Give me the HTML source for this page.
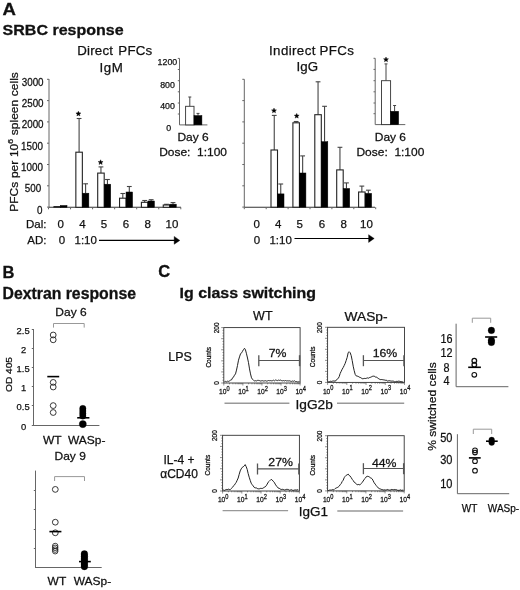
<!DOCTYPE html>
<html><head><meta charset="utf-8"><style>
html,body{margin:0;padding:0;background:#fff;}
svg{display:block;font-family:"Liberation Sans", sans-serif;will-change:transform;}
text{fill:#111;stroke:#111;stroke-width:0.25px;}
text[font-weight=bold]{stroke-width:0.3px;}
</style></head><body>
<svg width="520" height="590" viewBox="0 0 520 590">
<rect width="520" height="590" fill="#fff"/>
<text transform="translate(2.5,14.7) scale(1.08,1)" x="0" y="0" font-size="17.2" text-anchor="start" font-weight="bold" >A</text>
<text transform="translate(2.6,35.3) scale(1.055,1)" x="0" y="0" font-size="15.2" text-anchor="start" font-weight="bold" >SRBC response</text>
<line x1="49" y1="79" x2="49" y2="207.3" stroke="#666" stroke-width="1"/>
<line x1="49" y1="207.3" x2="181" y2="207.3" stroke="#333" stroke-width="1.1"/>
<line x1="47" y1="79.3" x2="49" y2="79.3" stroke="#666" stroke-width="1"/>
<line x1="47" y1="100.6" x2="49" y2="100.6" stroke="#666" stroke-width="1"/>
<line x1="47" y1="121.9" x2="49" y2="121.9" stroke="#666" stroke-width="1"/>
<line x1="47" y1="143.2" x2="49" y2="143.2" stroke="#666" stroke-width="1"/>
<line x1="47" y1="164.5" x2="49" y2="164.5" stroke="#666" stroke-width="1"/>
<line x1="47" y1="185.8" x2="49" y2="185.8" stroke="#666" stroke-width="1"/>
<line x1="47" y1="207.10000000000002" x2="49" y2="207.10000000000002" stroke="#666" stroke-width="1"/>
<rect x="54.0" y="206.6" width="6.5" height="0.700000000000017" fill="#fff" stroke="#222" stroke-width="1.1"/>
<rect x="60.5" y="205.5" width="6.5" height="1.8000000000000114" fill="#000" stroke="#000" stroke-width="0.5"/>
<line x1="79.1" y1="118.5" x2="79.1" y2="152.2" stroke="#444" stroke-width="1.1"/>
<line x1="76.69999999999999" y1="118.5" x2="81.5" y2="118.5" stroke="#444" stroke-width="1.1"/>
<rect x="75.85" y="152.2" width="6.5" height="55.10000000000002" fill="#fff" stroke="#222" stroke-width="1.1"/>
<line x1="85.6" y1="183.8" x2="85.6" y2="193.2" stroke="#444" stroke-width="1.1"/>
<line x1="83.19999999999999" y1="183.8" x2="88.0" y2="183.8" stroke="#444" stroke-width="1.1"/>
<rect x="82.35" y="193.2" width="6.5" height="14.100000000000023" fill="#000" stroke="#000" stroke-width="0.5"/>
<line x1="100.95" y1="166.9" x2="100.95" y2="173.1" stroke="#444" stroke-width="1.1"/>
<line x1="98.55" y1="166.9" x2="103.35000000000001" y2="166.9" stroke="#444" stroke-width="1.1"/>
<rect x="97.7" y="173.1" width="6.5" height="34.20000000000002" fill="#fff" stroke="#222" stroke-width="1.1"/>
<line x1="107.45" y1="179.5" x2="107.45" y2="184.2" stroke="#444" stroke-width="1.1"/>
<line x1="105.05" y1="179.5" x2="109.85000000000001" y2="179.5" stroke="#444" stroke-width="1.1"/>
<rect x="104.2" y="184.2" width="6.5" height="23.100000000000023" fill="#000" stroke="#000" stroke-width="0.5"/>
<line x1="122.80000000000001" y1="193.5" x2="122.80000000000001" y2="198.2" stroke="#444" stroke-width="1.1"/>
<line x1="120.4" y1="193.5" x2="125.20000000000002" y2="193.5" stroke="#444" stroke-width="1.1"/>
<rect x="119.55000000000001" y="198.2" width="6.5" height="9.100000000000023" fill="#fff" stroke="#222" stroke-width="1.1"/>
<line x1="129.3" y1="186.5" x2="129.3" y2="192" stroke="#444" stroke-width="1.1"/>
<line x1="126.9" y1="186.5" x2="131.70000000000002" y2="186.5" stroke="#444" stroke-width="1.1"/>
<rect x="126.05000000000001" y="192" width="6.5" height="15.300000000000011" fill="#000" stroke="#000" stroke-width="0.5"/>
<line x1="144.65" y1="200.5" x2="144.65" y2="202.3" stroke="#444" stroke-width="1.1"/>
<line x1="142.25" y1="200.5" x2="147.05" y2="200.5" stroke="#444" stroke-width="1.1"/>
<rect x="141.4" y="202.3" width="6.5" height="5.0" fill="#fff" stroke="#222" stroke-width="1.1"/>
<line x1="151.15" y1="199.7" x2="151.15" y2="201" stroke="#444" stroke-width="1.1"/>
<line x1="148.75" y1="199.7" x2="153.55" y2="199.7" stroke="#444" stroke-width="1.1"/>
<rect x="147.9" y="201" width="6.5" height="6.300000000000011" fill="#000" stroke="#000" stroke-width="0.5"/>
<line x1="166.5" y1="204.3" x2="166.5" y2="205" stroke="#444" stroke-width="1.1"/>
<line x1="164.1" y1="204.3" x2="168.9" y2="204.3" stroke="#444" stroke-width="1.1"/>
<rect x="163.25" y="205" width="6.5" height="2.3000000000000114" fill="#fff" stroke="#222" stroke-width="1.1"/>
<line x1="173.0" y1="202.6" x2="173.0" y2="204.2" stroke="#444" stroke-width="1.1"/>
<line x1="170.6" y1="202.6" x2="175.4" y2="202.6" stroke="#444" stroke-width="1.1"/>
<rect x="169.75" y="204.2" width="6.5" height="3.1000000000000227" fill="#000" stroke="#000" stroke-width="0.5"/>
<line x1="48.5" y1="207.3" x2="48.5" y2="209.3" stroke="#666" stroke-width="1"/>
<line x1="70.55" y1="207.3" x2="70.55" y2="209.3" stroke="#666" stroke-width="1"/>
<line x1="92.6" y1="207.3" x2="92.6" y2="209.3" stroke="#666" stroke-width="1"/>
<line x1="114.65" y1="207.3" x2="114.65" y2="209.3" stroke="#666" stroke-width="1"/>
<line x1="136.7" y1="207.3" x2="136.7" y2="209.3" stroke="#666" stroke-width="1"/>
<line x1="158.75" y1="207.3" x2="158.75" y2="209.3" stroke="#666" stroke-width="1"/>
<line x1="180.8" y1="207.3" x2="180.8" y2="209.3" stroke="#666" stroke-width="1"/>
<text transform="translate(43.6,85.7) scale(0.975,1)" x="0" y="0" font-size="10.1" text-anchor="end" font-weight="normal" >3000</text>
<text transform="translate(43.6,107.0) scale(0.975,1)" x="0" y="0" font-size="10.1" text-anchor="end" font-weight="normal" >2500</text>
<text transform="translate(43.6,128.3) scale(0.975,1)" x="0" y="0" font-size="10.1" text-anchor="end" font-weight="normal" >2000</text>
<text transform="translate(42.9,149.6) scale(0.975,1)" x="0" y="0" font-size="10.1" text-anchor="end" font-weight="normal" >1500</text>
<text transform="translate(43.0,170.9) scale(0.975,1)" x="0" y="0" font-size="10.1" text-anchor="end" font-weight="normal" >1000</text>
<text transform="translate(41.3,192.20000000000002) scale(0.975,1)" x="0" y="0" font-size="10.1" text-anchor="end" font-weight="normal" >500</text>
<text transform="translate(42.4,213.50000000000003) scale(0.975,1)" x="0" y="0" font-size="10.1" text-anchor="end" font-weight="normal" >0</text>
<polygon points="78.40,111.20 79.09,112.85 80.87,113.00 79.51,114.16 79.93,115.90 78.40,114.97 76.87,115.90 77.29,114.16 75.93,113.00 77.71,112.85" fill="#000" stroke="#000" stroke-width="0.4"/>
<polygon points="100.60,159.80 101.29,161.45 103.07,161.60 101.71,162.76 102.13,164.50 100.60,163.57 99.07,164.50 99.49,162.76 98.13,161.60 99.91,161.45" fill="#000" stroke="#000" stroke-width="0.4"/>
<text x="60.8" y="227.7" font-size="11.5" text-anchor="middle" font-weight="normal" >0</text>
<text x="82.4" y="227.7" font-size="11.5" text-anchor="middle" font-weight="normal" >4</text>
<text x="104" y="227.7" font-size="11.5" text-anchor="middle" font-weight="normal" >5</text>
<text x="126" y="227.7" font-size="11.5" text-anchor="middle" font-weight="normal" >6</text>
<text x="147.6" y="227.7" font-size="11.5" text-anchor="middle" font-weight="normal" >8</text>
<text x="172" y="227.7" font-size="11.5" text-anchor="middle" font-weight="normal" >10</text>
<text x="46.5" y="227.8" font-size="11.5" text-anchor="end" font-weight="normal" >Dal:</text>
<text x="46.5" y="244.1" font-size="11.5" text-anchor="end" font-weight="normal" >AD:</text>
<text x="62" y="244.1" font-size="11.5" text-anchor="middle" font-weight="normal" >0</text>
<text x="74.5" y="244.1" font-size="11.5" text-anchor="start" font-weight="normal" >1:10</text>
<line x1="99" y1="240.4" x2="175" y2="240.4" stroke="#000" stroke-width="1.1"/>
<path d="M174.2,236.4 L179.8,240.4 L174.2,244.3 Z" stroke="#000" stroke-width="0.4" fill="#000"/>
<text transform="translate(17.6,211.8) rotate(-90) scale(1.13,1)" font-size="10.6" x="0" y="0" word-spacing="0.4">PFCs per 10<tspan font-size="7.6" dy="-4.6">6</tspan><tspan dy="4.6"> spleen cells</tspan></text>
<text x="77.2" y="55" font-size="13.3" text-anchor="start" font-weight="normal" word-spacing="1.2" letter-spacing="0.22">Direct PFCs</text>
<text x="99.5" y="71.5" font-size="13.3" text-anchor="start" font-weight="normal" letter-spacing="0.6">IgM</text>
<line x1="179.5" y1="58.4" x2="179.5" y2="124.9" stroke="#666" stroke-width="1"/>
<line x1="179.5" y1="124.9" x2="207.4" y2="124.9" stroke="#666" stroke-width="1"/>
<line x1="177.8" y1="58.4" x2="179.5" y2="58.4" stroke="#666" stroke-width="1"/>
<line x1="177.8" y1="69.5" x2="179.5" y2="69.5" stroke="#666" stroke-width="1"/>
<line x1="177.8" y1="80.7" x2="179.5" y2="80.7" stroke="#666" stroke-width="1"/>
<line x1="177.8" y1="91.8" x2="179.5" y2="91.8" stroke="#666" stroke-width="1"/>
<line x1="177.8" y1="103" x2="179.5" y2="103" stroke="#666" stroke-width="1"/>
<line x1="177.8" y1="114" x2="179.5" y2="114" stroke="#666" stroke-width="1"/>
<text x="167.4" y="65.2" font-size="8.8" text-anchor="middle" font-weight="normal" >1200</text>
<text x="167.5" y="87.5" font-size="8.8" text-anchor="middle" font-weight="normal" >800</text>
<text x="167.5" y="108.7" font-size="8.8" text-anchor="middle" font-weight="normal" >400</text>
<text x="168.6" y="131" font-size="8.8" text-anchor="middle" font-weight="normal" >0</text>
<line x1="189.8" y1="97" x2="189.8" y2="106.3" stroke="#444" stroke-width="1"/>
<line x1="188.3" y1="97" x2="191.3" y2="97" stroke="#444" stroke-width="1"/>
<rect x="185.6" y="106.3" width="8.4" height="18.60000000000001" fill="#fff" stroke="#333" stroke-width="0.9"/>
<line x1="198" y1="113.4" x2="198" y2="115.6" stroke="#444" stroke-width="1"/>
<line x1="196.5" y1="113.4" x2="199.5" y2="113.4" stroke="#444" stroke-width="1"/>
<rect x="194" y="115.6" width="7.9" height="9.300000000000011" fill="#000" stroke="#000" stroke-width="0.5"/>
<text transform="translate(193.1,140.9) scale(1.07,1)" x="0" y="0" font-size="11.2" text-anchor="middle" font-weight="normal" >Day 6</text>
<text transform="translate(193.1,155.7) scale(1.07,1)" x="0" y="0" font-size="11.2" text-anchor="middle" font-weight="normal" >Dose:&#160;&#160;1:100</text>
<line x1="244.3" y1="79.3" x2="244.3" y2="207.2" stroke="#666" stroke-width="1"/>
<line x1="244.3" y1="207.2" x2="375" y2="207.2" stroke="#333" stroke-width="1.1"/>
<line x1="242.3" y1="79.3" x2="244.3" y2="79.3" stroke="#666" stroke-width="1"/>
<line x1="242.3" y1="100.6" x2="244.3" y2="100.6" stroke="#666" stroke-width="1"/>
<line x1="242.3" y1="121.9" x2="244.3" y2="121.9" stroke="#666" stroke-width="1"/>
<line x1="242.3" y1="143.2" x2="244.3" y2="143.2" stroke="#666" stroke-width="1"/>
<line x1="242.3" y1="164.5" x2="244.3" y2="164.5" stroke="#666" stroke-width="1"/>
<line x1="242.3" y1="185.8" x2="244.3" y2="185.8" stroke="#666" stroke-width="1"/>
<line x1="242.3" y1="207.10000000000002" x2="244.3" y2="207.10000000000002" stroke="#666" stroke-width="1"/>
<line x1="274.25" y1="115.4" x2="274.25" y2="150" stroke="#444" stroke-width="1.1"/>
<line x1="271.85" y1="115.4" x2="276.65" y2="115.4" stroke="#444" stroke-width="1.1"/>
<rect x="271.0" y="150" width="6.5" height="57.19999999999999" fill="#fff" stroke="#222" stroke-width="1.1"/>
<line x1="280.75" y1="184" x2="280.75" y2="193.9" stroke="#444" stroke-width="1.1"/>
<line x1="278.35" y1="184" x2="283.15" y2="184" stroke="#444" stroke-width="1.1"/>
<rect x="277.5" y="193.9" width="6.5" height="13.299999999999983" fill="#000" stroke="#000" stroke-width="0.5"/>
<line x1="296.15" y1="121.5" x2="296.15" y2="122.8" stroke="#444" stroke-width="1.1"/>
<line x1="293.75" y1="121.5" x2="298.54999999999995" y2="121.5" stroke="#444" stroke-width="1.1"/>
<rect x="292.9" y="122.8" width="6.5" height="84.39999999999999" fill="#fff" stroke="#222" stroke-width="1.1"/>
<line x1="302.65" y1="155.9" x2="302.65" y2="173" stroke="#444" stroke-width="1.1"/>
<line x1="300.25" y1="155.9" x2="305.04999999999995" y2="155.9" stroke="#444" stroke-width="1.1"/>
<rect x="299.4" y="173" width="6.5" height="34.19999999999999" fill="#000" stroke="#000" stroke-width="0.5"/>
<line x1="318.04999999999995" y1="81.8" x2="318.04999999999995" y2="114.7" stroke="#444" stroke-width="1.1"/>
<line x1="315.65" y1="81.8" x2="320.44999999999993" y2="81.8" stroke="#444" stroke-width="1.1"/>
<rect x="314.79999999999995" y="114.7" width="6.5" height="92.49999999999999" fill="#fff" stroke="#222" stroke-width="1.1"/>
<line x1="324.54999999999995" y1="106.3" x2="324.54999999999995" y2="141.7" stroke="#444" stroke-width="1.1"/>
<line x1="322.15" y1="106.3" x2="326.94999999999993" y2="106.3" stroke="#444" stroke-width="1.1"/>
<rect x="321.29999999999995" y="141.7" width="6.5" height="65.5" fill="#000" stroke="#000" stroke-width="0.5"/>
<line x1="339.95" y1="147.3" x2="339.95" y2="169.9" stroke="#444" stroke-width="1.1"/>
<line x1="337.55" y1="147.3" x2="342.34999999999997" y2="147.3" stroke="#444" stroke-width="1.1"/>
<rect x="336.7" y="169.9" width="6.5" height="37.29999999999998" fill="#fff" stroke="#222" stroke-width="1.1"/>
<line x1="346.45" y1="182.9" x2="346.45" y2="188.5" stroke="#444" stroke-width="1.1"/>
<line x1="344.05" y1="182.9" x2="348.84999999999997" y2="182.9" stroke="#444" stroke-width="1.1"/>
<rect x="343.2" y="188.5" width="6.5" height="18.69999999999999" fill="#000" stroke="#000" stroke-width="0.5"/>
<line x1="361.85" y1="186.1" x2="361.85" y2="192" stroke="#444" stroke-width="1.1"/>
<line x1="359.45000000000005" y1="186.1" x2="364.25" y2="186.1" stroke="#444" stroke-width="1.1"/>
<rect x="358.6" y="192" width="6.5" height="15.199999999999989" fill="#fff" stroke="#222" stroke-width="1.1"/>
<line x1="368.35" y1="190.2" x2="368.35" y2="193.4" stroke="#444" stroke-width="1.1"/>
<line x1="365.95000000000005" y1="190.2" x2="370.75" y2="190.2" stroke="#444" stroke-width="1.1"/>
<rect x="365.1" y="193.4" width="6.5" height="13.799999999999983" fill="#000" stroke="#000" stroke-width="0.5"/>
<line x1="244.3" y1="207.2" x2="244.3" y2="209.2" stroke="#666" stroke-width="1"/>
<line x1="266.2" y1="207.2" x2="266.2" y2="209.2" stroke="#666" stroke-width="1"/>
<line x1="288.1" y1="207.2" x2="288.1" y2="209.2" stroke="#666" stroke-width="1"/>
<line x1="310.0" y1="207.2" x2="310.0" y2="209.2" stroke="#666" stroke-width="1"/>
<line x1="331.9" y1="207.2" x2="331.9" y2="209.2" stroke="#666" stroke-width="1"/>
<line x1="353.8" y1="207.2" x2="353.8" y2="209.2" stroke="#666" stroke-width="1"/>
<line x1="375.7" y1="207.2" x2="375.7" y2="209.2" stroke="#666" stroke-width="1"/>
<polygon points="274.00,108.10 274.69,109.75 276.47,109.90 275.11,111.06 275.53,112.80 274.00,111.87 272.47,112.80 272.89,111.06 271.53,109.90 273.31,109.75" fill="#000" stroke="#000" stroke-width="0.4"/>
<polygon points="296.70,113.40 297.39,115.05 299.17,115.20 297.81,116.36 298.23,118.10 296.70,117.17 295.17,118.10 295.59,116.36 294.23,115.20 296.01,115.05" fill="#000" stroke="#000" stroke-width="0.4"/>
<text x="256.7" y="227.8" font-size="11.5" text-anchor="middle" font-weight="normal" >0</text>
<text x="278.2" y="227.8" font-size="11.5" text-anchor="middle" font-weight="normal" >4</text>
<text x="299.8" y="227.8" font-size="11.5" text-anchor="middle" font-weight="normal" >5</text>
<text x="322" y="227.8" font-size="11.5" text-anchor="middle" font-weight="normal" >6</text>
<text x="343.7" y="227.8" font-size="11.5" text-anchor="middle" font-weight="normal" >8</text>
<text x="366.5" y="227.8" font-size="11.5" text-anchor="middle" font-weight="normal" >10</text>
<text x="257" y="243.5" font-size="11.5" text-anchor="middle" font-weight="normal" >0</text>
<text x="269.4" y="243.5" font-size="11.5" text-anchor="start" font-weight="normal" >1:10</text>
<line x1="294.5" y1="238.5" x2="369" y2="238.5" stroke="#000" stroke-width="1.1"/>
<path d="M368.6,234.7 L374.2,238.5 L368.6,242.4 Z" stroke="#000" stroke-width="0.4" fill="#000"/>
<text x="269" y="55" font-size="13.3" text-anchor="start" font-weight="normal" word-spacing="-0.5" letter-spacing="0.4">Indirect PFCs</text>
<text x="296.6" y="71.3" font-size="13.3" text-anchor="start" font-weight="normal" >IgG</text>
<line x1="375.2" y1="58.3" x2="375.2" y2="124.6" stroke="#666" stroke-width="1"/>
<line x1="375.2" y1="124.6" x2="405.3" y2="124.6" stroke="#666" stroke-width="1"/>
<line x1="373.5" y1="58.3" x2="375.2" y2="58.3" stroke="#666" stroke-width="1"/>
<line x1="373.5" y1="69.4" x2="375.2" y2="69.4" stroke="#666" stroke-width="1"/>
<line x1="373.5" y1="80.7" x2="375.2" y2="80.7" stroke="#666" stroke-width="1"/>
<line x1="373.5" y1="91.8" x2="375.2" y2="91.8" stroke="#666" stroke-width="1"/>
<line x1="373.5" y1="103" x2="375.2" y2="103" stroke="#666" stroke-width="1"/>
<line x1="373.5" y1="113.7" x2="375.2" y2="113.7" stroke="#666" stroke-width="1"/>
<line x1="386" y1="63.9" x2="386" y2="80.7" stroke="#444" stroke-width="1"/>
<line x1="384.5" y1="63.9" x2="387.5" y2="63.9" stroke="#444" stroke-width="1"/>
<rect x="381.5" y="80.7" width="9.1" height="43.89999999999999" fill="#fff" stroke="#333" stroke-width="0.9"/>
<line x1="394.6" y1="105.5" x2="394.6" y2="111.3" stroke="#444" stroke-width="1"/>
<line x1="393.1" y1="105.5" x2="396.1" y2="105.5" stroke="#444" stroke-width="1"/>
<rect x="390.6" y="111.3" width="8" height="13.299999999999997" fill="#000" stroke="#000" stroke-width="0.5"/>
<polygon points="386.00,57.00 386.69,58.65 388.47,58.80 387.11,59.96 387.53,61.70 386.00,60.77 384.47,61.70 384.89,59.96 383.53,58.80 385.31,58.65" fill="#000" stroke="#000" stroke-width="0.4"/>
<text transform="translate(390.4,140.9) scale(1.07,1)" x="0" y="0" font-size="11.2" text-anchor="middle" font-weight="normal" >Day 6</text>
<text transform="translate(390.4,155.7) scale(1.07,1)" x="0" y="0" font-size="11.2" text-anchor="middle" font-weight="normal" >Dose:&#160;&#160;1:100</text>
<text x="2.6" y="277.7" font-size="16.5" text-anchor="start" font-weight="bold" >B</text>
<text x="2.5" y="298.6" font-size="15.8" text-anchor="start" font-weight="bold" >Dextran response</text>
<text transform="translate(71,316.3) scale(1.07,1)" x="0" y="0" font-size="11.2" text-anchor="middle" font-weight="normal" >Day 6</text>
<path d="M53.5,327.6 L53.5,323.5 L84.2,323.5 L84.2,327.6" stroke="#999" stroke-width="1" fill="none"/>
<line x1="33.5" y1="329" x2="33.5" y2="425.5" stroke="#666" stroke-width="1"/>
<line x1="33" y1="425.5" x2="99.4" y2="425.5" stroke="#666" stroke-width="1"/>
<line x1="31.8" y1="329.5" x2="33.5" y2="329.5" stroke="#666" stroke-width="1"/>
<text x="23.1" y="334.1" font-size="9.4" text-anchor="middle" font-weight="normal" >2.5</text>
<line x1="31.8" y1="348.5" x2="33.5" y2="348.5" stroke="#666" stroke-width="1"/>
<text x="23.6" y="353.1" font-size="9.4" text-anchor="middle" font-weight="normal" >2</text>
<line x1="31.8" y1="367.5" x2="33.5" y2="367.5" stroke="#666" stroke-width="1"/>
<text x="23.1" y="372.1" font-size="9.4" text-anchor="middle" font-weight="normal" >1.5</text>
<line x1="31.8" y1="386.5" x2="33.5" y2="386.5" stroke="#666" stroke-width="1"/>
<text x="23.6" y="391.1" font-size="9.4" text-anchor="middle" font-weight="normal" >1</text>
<line x1="31.8" y1="405.5" x2="33.5" y2="405.5" stroke="#666" stroke-width="1"/>
<text x="23.1" y="410.1" font-size="9.4" text-anchor="middle" font-weight="normal" >0.5</text>
<line x1="31.8" y1="425.5" x2="33.5" y2="425.5" stroke="#666" stroke-width="1"/>
<text x="23.6" y="430.1" font-size="9.4" text-anchor="middle" font-weight="normal" >0</text>
<circle cx="53.2" cy="335" r="2.9" fill="none" stroke="#222" stroke-width="0.9"/>
<circle cx="53.2" cy="339.8" r="2.9" fill="none" stroke="#222" stroke-width="0.9"/>
<circle cx="53.2" cy="382.4" r="2.9" fill="none" stroke="#222" stroke-width="0.9"/>
<circle cx="53.2" cy="387" r="2.9" fill="none" stroke="#222" stroke-width="0.9"/>
<circle cx="53.2" cy="405.6" r="2.9" fill="none" stroke="#222" stroke-width="0.9"/>
<circle cx="53.2" cy="412.5" r="2.9" fill="none" stroke="#222" stroke-width="0.9"/>
<line x1="47.3" y1="376.6" x2="59.2" y2="376.6" stroke="#000" stroke-width="1.6"/>
<circle cx="82.8" cy="408.5" r="3.2" fill="#000" stroke="#000" stroke-width="0.3"/>
<circle cx="82.8" cy="411" r="3.2" fill="#000" stroke="#000" stroke-width="0.3"/>
<circle cx="82.8" cy="413.5" r="3.2" fill="#000" stroke="#000" stroke-width="0.3"/>
<circle cx="82.8" cy="416" r="3.2" fill="#000" stroke="#000" stroke-width="0.3"/>
<circle cx="82.8" cy="424.1" r="3.6" fill="#000" stroke="#000" stroke-width="0.3"/>
<line x1="77.2" y1="417.8" x2="89.4" y2="417.8" stroke="#000" stroke-width="1.6"/>
<text transform="translate(12.2,392) rotate(-90) scale(1.08,1)" font-size="9.4" x="0" y="0">OD 405</text>
<text transform="translate(52.2,443.9) scale(1.07,1)" x="0" y="0" font-size="11.2" text-anchor="middle" font-weight="normal" >WT</text>
<text transform="translate(86.7,443.9) scale(1.07,1)" x="0" y="0" font-size="11.2" text-anchor="middle" font-weight="normal" >WASp-</text>
<text transform="translate(70.2,460.4) scale(1.07,1)" x="0" y="0" font-size="11.2" text-anchor="middle" font-weight="normal" >Day 9</text>
<path d="M54.6,481 L54.6,476.6 L84.5,476.6 L84.5,481" stroke="#999" stroke-width="1" fill="none"/>
<line x1="35.5" y1="470.6" x2="35.5" y2="567.5" stroke="#666" stroke-width="1"/>
<line x1="35" y1="567.5" x2="101.7" y2="567.5" stroke="#666" stroke-width="1"/>
<line x1="33.8" y1="490.5" x2="35.5" y2="490.5" stroke="#666" stroke-width="1"/>
<line x1="33.8" y1="509.5" x2="35.5" y2="509.5" stroke="#666" stroke-width="1"/>
<line x1="33.8" y1="529.5" x2="35.5" y2="529.5" stroke="#666" stroke-width="1"/>
<line x1="33.8" y1="548.5" x2="35.5" y2="548.5" stroke="#666" stroke-width="1"/>
<circle cx="55.3" cy="489.4" r="2.9" fill="none" stroke="#222" stroke-width="0.9"/>
<circle cx="55.3" cy="522.2" r="2.9" fill="none" stroke="#222" stroke-width="0.9"/>
<circle cx="55.3" cy="532.8" r="2.9" fill="none" stroke="#222" stroke-width="0.9"/>
<circle cx="55.2" cy="546.0" r="2.75" fill="none" stroke="#222" stroke-width="0.85"/>
<circle cx="55.2" cy="547.8" r="2.75" fill="none" stroke="#222" stroke-width="0.85"/>
<circle cx="55.2" cy="549.6" r="2.75" fill="none" stroke="#222" stroke-width="0.85"/>
<circle cx="55.2" cy="551.2" r="2.75" fill="none" stroke="#222" stroke-width="0.85"/>
<line x1="49.4" y1="531.6" x2="61.4" y2="531.6" stroke="#000" stroke-width="1.6"/>
<circle cx="84.4" cy="554" r="3.4" fill="#000" stroke="#000" stroke-width="0.3"/>
<circle cx="84.4" cy="556.5" r="3.4" fill="#000" stroke="#000" stroke-width="0.3"/>
<circle cx="84.4" cy="559" r="3.4" fill="#000" stroke="#000" stroke-width="0.3"/>
<circle cx="84.4" cy="561.5" r="3.4" fill="#000" stroke="#000" stroke-width="0.3"/>
<circle cx="84.4" cy="564" r="3.4" fill="#000" stroke="#000" stroke-width="0.3"/>
<circle cx="84.4" cy="566.5" r="3.4" fill="#000" stroke="#000" stroke-width="0.3"/>
<line x1="79" y1="561.6" x2="90.8" y2="561.6" stroke="#000" stroke-width="1.6"/>
<text transform="translate(56.9,585) scale(1.07,1)" x="0" y="0" font-size="11.2" text-anchor="middle" font-weight="normal" >WT</text>
<text transform="translate(92.4,585) scale(1.07,1)" x="0" y="0" font-size="11.2" text-anchor="middle" font-weight="normal" >WASp-</text>
<text x="158.3" y="277" font-size="16.5" text-anchor="start" font-weight="bold" >C</text>
<text transform="translate(179.6,297.8) scale(1.085,1)" x="0" y="0" font-size="14.7" text-anchor="start" font-weight="bold" >Ig class switching</text>
<text x="262.8" y="320.3" font-size="12.5" text-anchor="middle" font-weight="normal" >WT</text>
<text transform="translate(366.1,320.9) scale(1.1,1)" x="0" y="0" font-size="12.5" text-anchor="middle" font-weight="normal" >WASp-</text>
<text transform="translate(180,361.4) scale(1.035,1)" x="0" y="0" font-size="12" text-anchor="middle" font-weight="normal" >LPS</text>
<text x="179" y="464.2" font-size="12" text-anchor="middle" font-weight="normal" >IL-4 +</text>
<text x="179" y="478.2" font-size="12" text-anchor="middle" font-weight="normal" >&#945;CD40</text>
<rect x="223.8" y="327.6" width="76.30000000000001" height="55.39999999999998" fill="none" stroke="#333" stroke-width="0.9"/>
<line x1="221.20000000000002" y1="383.0" x2="223.8" y2="383.0" stroke="#444" stroke-width="0.6"/>
<line x1="222.5" y1="380.23" x2="223.8" y2="380.23" stroke="#444" stroke-width="0.6"/>
<line x1="222.5" y1="377.46" x2="223.8" y2="377.46" stroke="#444" stroke-width="0.6"/>
<line x1="222.5" y1="374.69" x2="223.8" y2="374.69" stroke="#444" stroke-width="0.6"/>
<line x1="221.20000000000002" y1="371.92" x2="223.8" y2="371.92" stroke="#444" stroke-width="0.6"/>
<line x1="222.5" y1="369.15" x2="223.8" y2="369.15" stroke="#444" stroke-width="0.6"/>
<line x1="222.5" y1="366.38" x2="223.8" y2="366.38" stroke="#444" stroke-width="0.6"/>
<line x1="222.5" y1="363.61" x2="223.8" y2="363.61" stroke="#444" stroke-width="0.6"/>
<line x1="221.20000000000002" y1="360.84000000000003" x2="223.8" y2="360.84000000000003" stroke="#444" stroke-width="0.6"/>
<line x1="222.5" y1="358.07" x2="223.8" y2="358.07" stroke="#444" stroke-width="0.6"/>
<line x1="222.5" y1="355.3" x2="223.8" y2="355.3" stroke="#444" stroke-width="0.6"/>
<line x1="222.5" y1="352.53000000000003" x2="223.8" y2="352.53000000000003" stroke="#444" stroke-width="0.6"/>
<line x1="221.20000000000002" y1="349.76" x2="223.8" y2="349.76" stroke="#444" stroke-width="0.6"/>
<line x1="222.5" y1="346.99" x2="223.8" y2="346.99" stroke="#444" stroke-width="0.6"/>
<line x1="222.5" y1="344.22" x2="223.8" y2="344.22" stroke="#444" stroke-width="0.6"/>
<line x1="222.5" y1="341.45000000000005" x2="223.8" y2="341.45000000000005" stroke="#444" stroke-width="0.6"/>
<line x1="221.20000000000002" y1="338.68" x2="223.8" y2="338.68" stroke="#444" stroke-width="0.6"/>
<line x1="222.5" y1="335.91" x2="223.8" y2="335.91" stroke="#444" stroke-width="0.6"/>
<line x1="222.5" y1="333.14000000000004" x2="223.8" y2="333.14000000000004" stroke="#444" stroke-width="0.6"/>
<line x1="222.5" y1="330.37" x2="223.8" y2="330.37" stroke="#444" stroke-width="0.6"/>
<line x1="221.20000000000002" y1="327.6" x2="223.8" y2="327.6" stroke="#444" stroke-width="0.6"/>
<line x1="223.8" y1="383" x2="223.8" y2="385.5" stroke="#444" stroke-width="0.6"/>
<line x1="229.54214716729047" y1="383" x2="229.54214716729047" y2="384.3" stroke="#444" stroke-width="0.6"/>
<line x1="232.90108793377757" y1="383" x2="232.90108793377757" y2="384.3" stroke="#444" stroke-width="0.6"/>
<line x1="235.2842943345809" y1="383" x2="235.2842943345809" y2="384.3" stroke="#444" stroke-width="0.6"/>
<line x1="237.13285283270957" y1="383" x2="237.13285283270957" y2="384.3" stroke="#444" stroke-width="0.6"/>
<line x1="238.643235101068" y1="383" x2="238.643235101068" y2="384.3" stroke="#444" stroke-width="0.6"/>
<line x1="239.92024511327196" y1="383" x2="239.92024511327196" y2="384.3" stroke="#444" stroke-width="0.6"/>
<line x1="241.02644150187135" y1="383" x2="241.02644150187135" y2="384.3" stroke="#444" stroke-width="0.6"/>
<line x1="242.00217586755514" y1="383" x2="242.00217586755514" y2="384.3" stroke="#444" stroke-width="0.6"/>
<line x1="242.875" y1="383" x2="242.875" y2="385.5" stroke="#444" stroke-width="0.6"/>
<line x1="248.61714716729045" y1="383" x2="248.61714716729045" y2="384.3" stroke="#444" stroke-width="0.6"/>
<line x1="251.97608793377756" y1="383" x2="251.97608793377756" y2="384.3" stroke="#444" stroke-width="0.6"/>
<line x1="254.3592943345809" y1="383" x2="254.3592943345809" y2="384.3" stroke="#444" stroke-width="0.6"/>
<line x1="256.2078528327096" y1="383" x2="256.2078528327096" y2="384.3" stroke="#444" stroke-width="0.6"/>
<line x1="257.718235101068" y1="383" x2="257.718235101068" y2="384.3" stroke="#444" stroke-width="0.6"/>
<line x1="258.99524511327195" y1="383" x2="258.99524511327195" y2="384.3" stroke="#444" stroke-width="0.6"/>
<line x1="260.10144150187136" y1="383" x2="260.10144150187136" y2="384.3" stroke="#444" stroke-width="0.6"/>
<line x1="261.0771758675551" y1="383" x2="261.0771758675551" y2="384.3" stroke="#444" stroke-width="0.6"/>
<line x1="261.95000000000005" y1="383" x2="261.95000000000005" y2="385.5" stroke="#444" stroke-width="0.6"/>
<line x1="267.69214716729044" y1="383" x2="267.69214716729044" y2="384.3" stroke="#444" stroke-width="0.6"/>
<line x1="271.0510879337776" y1="383" x2="271.0510879337776" y2="384.3" stroke="#444" stroke-width="0.6"/>
<line x1="273.4342943345809" y1="383" x2="273.4342943345809" y2="384.3" stroke="#444" stroke-width="0.6"/>
<line x1="275.2828528327096" y1="383" x2="275.2828528327096" y2="384.3" stroke="#444" stroke-width="0.6"/>
<line x1="276.79323510106803" y1="383" x2="276.79323510106803" y2="384.3" stroke="#444" stroke-width="0.6"/>
<line x1="278.070245113272" y1="383" x2="278.070245113272" y2="384.3" stroke="#444" stroke-width="0.6"/>
<line x1="279.17644150187135" y1="383" x2="279.17644150187135" y2="384.3" stroke="#444" stroke-width="0.6"/>
<line x1="280.1521758675551" y1="383" x2="280.1521758675551" y2="384.3" stroke="#444" stroke-width="0.6"/>
<line x1="281.02500000000003" y1="383" x2="281.02500000000003" y2="385.5" stroke="#444" stroke-width="0.6"/>
<line x1="286.76714716729043" y1="383" x2="286.76714716729043" y2="384.3" stroke="#444" stroke-width="0.6"/>
<line x1="290.12608793377757" y1="383" x2="290.12608793377757" y2="384.3" stroke="#444" stroke-width="0.6"/>
<line x1="292.5092943345809" y1="383" x2="292.5092943345809" y2="384.3" stroke="#444" stroke-width="0.6"/>
<line x1="294.35785283270957" y1="383" x2="294.35785283270957" y2="384.3" stroke="#444" stroke-width="0.6"/>
<line x1="295.868235101068" y1="383" x2="295.868235101068" y2="384.3" stroke="#444" stroke-width="0.6"/>
<line x1="297.145245113272" y1="383" x2="297.145245113272" y2="384.3" stroke="#444" stroke-width="0.6"/>
<line x1="298.25144150187134" y1="383" x2="298.25144150187134" y2="384.3" stroke="#444" stroke-width="0.6"/>
<line x1="299.22717586755516" y1="383" x2="299.22717586755516" y2="384.3" stroke="#444" stroke-width="0.6"/>
<line x1="300.1" y1="383" x2="300.1" y2="385.5" stroke="#444" stroke-width="0.6"/>
<text transform="translate(224.4,394.2) scale(0.86,1)" x="0" y="0" font-size="7.8" text-anchor="middle" font-weight="normal" >10<tspan font-size="6.6" dy="-3.2">0</tspan></text>
<text transform="translate(243.475,394.2) scale(0.86,1)" x="0" y="0" font-size="7.8" text-anchor="middle" font-weight="normal" >10<tspan font-size="6.6" dy="-3.2">1</tspan></text>
<text transform="translate(262.55000000000007,394.2) scale(0.86,1)" x="0" y="0" font-size="7.8" text-anchor="middle" font-weight="normal" >10<tspan font-size="6.6" dy="-3.2">2</tspan></text>
<text transform="translate(281.62500000000006,394.2) scale(0.86,1)" x="0" y="0" font-size="7.8" text-anchor="middle" font-weight="normal" >10<tspan font-size="6.6" dy="-3.2">3</tspan></text>
<text transform="translate(300.70000000000005,394.2) scale(0.86,1)" x="0" y="0" font-size="7.8" text-anchor="middle" font-weight="normal" >10<tspan font-size="6.6" dy="-3.2">4</tspan></text>
<text transform="translate(218.5,327.90000000000003) rotate(-90)" font-size="6.5" text-anchor="middle">200</text>
<text transform="translate(218.5,383) rotate(-90)" font-size="6.5" text-anchor="middle">0</text>
<text transform="translate(211.0,357.3) rotate(-90)" font-size="6.5" text-anchor="middle">Counts</text>
<path d="M224.5,381.6 L225.5,381.4 L226.5,381.8 L227.5,381.2 L228.5,381.4 L229.5,380.9 L230.5,380.2 L231.5,379.9 L232.5,378.0 L233.5,377.0 L234.5,375.2 L235.5,373.9 L236.5,370.1 L237.5,365.4 L238.5,360.2 L239.5,356.9 L240.5,353.9 L241.5,352.9 L242.5,351.3 L243.5,349.5 L244.5,348.3 L245.5,350.0 L246.5,353.8 L247.5,358.0 L248.5,362.7 L249.5,368.9 L250.5,373.9 L251.5,377.8 L252.5,379.3 L253.5,380.3 L254.5,380.9 L255.5,380.7 L256.5,380.9 L257.5,380.4 L258.5,380.4 L259.5,380.6 L260.5,381.0 L261.5,380.8 L262.5,380.7 L263.5,381.0 L264.5,380.9 L265.5,380.7 L266.5,381.1 L267.5,380.9 L268.5,380.5 L269.5,380.7 L270.5,380.6 L271.5,380.8 L272.5,380.7 L273.5,380.2 L274.5,380.8 L275.5,380.0 L276.5,380.3 L277.5,380.6 L278.5,380.1 L279.5,380.4 L280.5,380.1 L281.5,380.6 L282.5,380.8 L283.5,380.6 L284.5,380.9 L285.5,380.5 L286.5,380.9 L287.5,380.8 L288.5,380.9 L289.5,380.8 L290.5,381.2 L291.5,381.4 L292.5,381.0 L293.5,381.3 L294.5,380.8 L295.5,381.5 L296.5,381.5 L297.5,381.9 L298.5,381.8 L299.5,381.4" stroke="#222" stroke-width="1.0" fill="none"/>
<line x1="258.8" y1="360.5" x2="300.1" y2="360.5" stroke="#555" stroke-width="1.2"/>
<line x1="258.8" y1="355.2" x2="258.8" y2="366.2" stroke="#555" stroke-width="1.3"/>
<line x1="299.6" y1="355.2" x2="299.6" y2="366.2" stroke="#555" stroke-width="1.5"/>
<text transform="translate(277.6,356.5) scale(1.07,1)" x="0" y="0" font-size="11.5" text-anchor="middle" font-weight="normal" >7%</text>
<rect x="327.6" y="327.3" width="76.89999999999998" height="55.099999999999966" fill="none" stroke="#333" stroke-width="0.9"/>
<line x1="325.0" y1="382.4" x2="327.6" y2="382.4" stroke="#444" stroke-width="0.6"/>
<line x1="326.3" y1="379.645" x2="327.6" y2="379.645" stroke="#444" stroke-width="0.6"/>
<line x1="326.3" y1="376.89" x2="327.6" y2="376.89" stroke="#444" stroke-width="0.6"/>
<line x1="326.3" y1="374.135" x2="327.6" y2="374.135" stroke="#444" stroke-width="0.6"/>
<line x1="325.0" y1="371.38" x2="327.6" y2="371.38" stroke="#444" stroke-width="0.6"/>
<line x1="326.3" y1="368.625" x2="327.6" y2="368.625" stroke="#444" stroke-width="0.6"/>
<line x1="326.3" y1="365.87" x2="327.6" y2="365.87" stroke="#444" stroke-width="0.6"/>
<line x1="326.3" y1="363.115" x2="327.6" y2="363.115" stroke="#444" stroke-width="0.6"/>
<line x1="325.0" y1="360.36" x2="327.6" y2="360.36" stroke="#444" stroke-width="0.6"/>
<line x1="326.3" y1="357.605" x2="327.6" y2="357.605" stroke="#444" stroke-width="0.6"/>
<line x1="326.3" y1="354.85" x2="327.6" y2="354.85" stroke="#444" stroke-width="0.6"/>
<line x1="326.3" y1="352.09499999999997" x2="327.6" y2="352.09499999999997" stroke="#444" stroke-width="0.6"/>
<line x1="325.0" y1="349.34" x2="327.6" y2="349.34" stroke="#444" stroke-width="0.6"/>
<line x1="326.3" y1="346.585" x2="327.6" y2="346.585" stroke="#444" stroke-width="0.6"/>
<line x1="326.3" y1="343.83" x2="327.6" y2="343.83" stroke="#444" stroke-width="0.6"/>
<line x1="326.3" y1="341.075" x2="327.6" y2="341.075" stroke="#444" stroke-width="0.6"/>
<line x1="325.0" y1="338.32" x2="327.6" y2="338.32" stroke="#444" stroke-width="0.6"/>
<line x1="326.3" y1="335.565" x2="327.6" y2="335.565" stroke="#444" stroke-width="0.6"/>
<line x1="326.3" y1="332.81" x2="327.6" y2="332.81" stroke="#444" stroke-width="0.6"/>
<line x1="326.3" y1="330.055" x2="327.6" y2="330.055" stroke="#444" stroke-width="0.6"/>
<line x1="325.0" y1="327.3" x2="327.6" y2="327.3" stroke="#444" stroke-width="0.6"/>
<line x1="327.6" y1="382.4" x2="327.6" y2="384.9" stroke="#444" stroke-width="0.6"/>
<line x1="333.38730166664004" y1="382.4" x2="333.38730166664004" y2="383.7" stroke="#444" stroke-width="0.6"/>
<line x1="336.7726561219855" y1="382.4" x2="336.7726561219855" y2="383.7" stroke="#444" stroke-width="0.6"/>
<line x1="339.1746033332801" y1="382.4" x2="339.1746033332801" y2="383.7" stroke="#444" stroke-width="0.6"/>
<line x1="341.03769833335997" y1="382.4" x2="341.03769833335997" y2="383.7" stroke="#444" stroke-width="0.6"/>
<line x1="342.5599577886256" y1="382.4" x2="342.5599577886256" y2="383.7" stroke="#444" stroke-width="0.6"/>
<line x1="343.8470098192741" y1="382.4" x2="343.8470098192741" y2="383.7" stroke="#444" stroke-width="0.6"/>
<line x1="344.96190499992014" y1="382.4" x2="344.96190499992014" y2="383.7" stroke="#444" stroke-width="0.6"/>
<line x1="345.94531224397105" y1="382.4" x2="345.94531224397105" y2="383.7" stroke="#444" stroke-width="0.6"/>
<line x1="346.82500000000005" y1="382.4" x2="346.82500000000005" y2="384.9" stroke="#444" stroke-width="0.6"/>
<line x1="352.61230166664006" y1="382.4" x2="352.61230166664006" y2="383.7" stroke="#444" stroke-width="0.6"/>
<line x1="355.99765612198553" y1="382.4" x2="355.99765612198553" y2="383.7" stroke="#444" stroke-width="0.6"/>
<line x1="358.3996033332801" y1="382.4" x2="358.3996033332801" y2="383.7" stroke="#444" stroke-width="0.6"/>
<line x1="360.26269833336" y1="382.4" x2="360.26269833336" y2="383.7" stroke="#444" stroke-width="0.6"/>
<line x1="361.78495778862555" y1="382.4" x2="361.78495778862555" y2="383.7" stroke="#444" stroke-width="0.6"/>
<line x1="363.0720098192741" y1="382.4" x2="363.0720098192741" y2="383.7" stroke="#444" stroke-width="0.6"/>
<line x1="364.1869049999201" y1="382.4" x2="364.1869049999201" y2="383.7" stroke="#444" stroke-width="0.6"/>
<line x1="365.170312243971" y1="382.4" x2="365.170312243971" y2="383.7" stroke="#444" stroke-width="0.6"/>
<line x1="366.05" y1="382.4" x2="366.05" y2="384.9" stroke="#444" stroke-width="0.6"/>
<line x1="371.83730166664003" y1="382.4" x2="371.83730166664003" y2="383.7" stroke="#444" stroke-width="0.6"/>
<line x1="375.22265612198555" y1="382.4" x2="375.22265612198555" y2="383.7" stroke="#444" stroke-width="0.6"/>
<line x1="377.6246033332801" y1="382.4" x2="377.6246033332801" y2="383.7" stroke="#444" stroke-width="0.6"/>
<line x1="379.48769833335996" y1="382.4" x2="379.48769833335996" y2="383.7" stroke="#444" stroke-width="0.6"/>
<line x1="381.00995778862557" y1="382.4" x2="381.00995778862557" y2="383.7" stroke="#444" stroke-width="0.6"/>
<line x1="382.2970098192741" y1="382.4" x2="382.2970098192741" y2="383.7" stroke="#444" stroke-width="0.6"/>
<line x1="383.4119049999201" y1="382.4" x2="383.4119049999201" y2="383.7" stroke="#444" stroke-width="0.6"/>
<line x1="384.39531224397103" y1="382.4" x2="384.39531224397103" y2="383.7" stroke="#444" stroke-width="0.6"/>
<line x1="385.275" y1="382.4" x2="385.275" y2="384.9" stroke="#444" stroke-width="0.6"/>
<line x1="391.06230166664005" y1="382.4" x2="391.06230166664005" y2="383.7" stroke="#444" stroke-width="0.6"/>
<line x1="394.4476561219855" y1="382.4" x2="394.4476561219855" y2="383.7" stroke="#444" stroke-width="0.6"/>
<line x1="396.8496033332801" y1="382.4" x2="396.8496033332801" y2="383.7" stroke="#444" stroke-width="0.6"/>
<line x1="398.71269833336" y1="382.4" x2="398.71269833336" y2="383.7" stroke="#444" stroke-width="0.6"/>
<line x1="400.23495778862554" y1="382.4" x2="400.23495778862554" y2="383.7" stroke="#444" stroke-width="0.6"/>
<line x1="401.5220098192741" y1="382.4" x2="401.5220098192741" y2="383.7" stroke="#444" stroke-width="0.6"/>
<line x1="402.63690499992015" y1="382.4" x2="402.63690499992015" y2="383.7" stroke="#444" stroke-width="0.6"/>
<line x1="403.620312243971" y1="382.4" x2="403.620312243971" y2="383.7" stroke="#444" stroke-width="0.6"/>
<line x1="404.5" y1="382.4" x2="404.5" y2="384.9" stroke="#444" stroke-width="0.6"/>
<text transform="translate(328.20000000000005,393.59999999999997) scale(0.86,1)" x="0" y="0" font-size="7.8" text-anchor="middle" font-weight="normal" >10<tspan font-size="6.6" dy="-3.2">0</tspan></text>
<text transform="translate(347.42500000000007,393.59999999999997) scale(0.86,1)" x="0" y="0" font-size="7.8" text-anchor="middle" font-weight="normal" >10<tspan font-size="6.6" dy="-3.2">1</tspan></text>
<text transform="translate(366.65000000000003,393.59999999999997) scale(0.86,1)" x="0" y="0" font-size="7.8" text-anchor="middle" font-weight="normal" >10<tspan font-size="6.6" dy="-3.2">2</tspan></text>
<text transform="translate(385.875,393.59999999999997) scale(0.86,1)" x="0" y="0" font-size="7.8" text-anchor="middle" font-weight="normal" >10<tspan font-size="6.6" dy="-3.2">3</tspan></text>
<text transform="translate(405.1,393.59999999999997) scale(0.86,1)" x="0" y="0" font-size="7.8" text-anchor="middle" font-weight="normal" >10<tspan font-size="6.6" dy="-3.2">4</tspan></text>
<text transform="translate(322.3,327.6) rotate(-90)" font-size="6.5" text-anchor="middle">200</text>
<text transform="translate(322.3,382.4) rotate(-90)" font-size="6.5" text-anchor="middle">0</text>
<text transform="translate(314.8,356.85) rotate(-90)" font-size="6.5" text-anchor="middle">Counts</text>
<path d="M328.2,381.7 L329.2,381.9 L330.2,381.2 L331.2,381.5 L332.2,381.2 L333.2,381.0 L334.2,380.9 L335.2,381.4 L336.2,380.0 L337.2,379.2 L338.2,378.5 L339.2,376.6 L340.2,373.4 L341.2,371.3 L342.2,369.2 L343.2,367.5 L344.2,365.5 L345.2,363.3 L346.2,360.4 L347.2,357.3 L348.2,352.6 L349.2,351.7 L350.2,352.8 L351.2,355.6 L352.2,360.5 L353.2,366.2 L354.2,370.7 L355.2,374.4 L356.2,375.9 L357.2,376.1 L358.2,376.4 L359.2,377.1 L360.2,377.4 L361.2,378.0 L362.2,378.7 L363.2,378.7 L364.2,378.4 L365.2,378.5 L366.2,378.4 L367.2,377.8 L368.2,378.3 L369.2,377.7 L370.2,377.4 L371.2,377.0 L372.2,376.4 L373.2,376.2 L374.2,376.1 L375.2,377.0 L376.2,377.0 L377.2,377.6 L378.2,378.4 L379.2,379.0 L380.2,379.6 L381.2,379.5 L382.2,379.6 L383.2,379.8 L384.2,379.9 L385.2,380.3 L386.2,380.1 L387.2,381.0 L388.2,380.9 L389.2,380.7 L390.2,380.9 L391.2,381.1 L392.2,381.1 L393.2,381.0 L394.2,381.7 L395.2,381.9 L396.2,381.4 L397.2,381.5 L398.2,381.2 L399.2,381.2 L400.2,381.5 L401.2,381.5 L402.2,382.0 L403.2,381.5" stroke="#222" stroke-width="1.0" fill="none"/>
<line x1="363.4" y1="360.5" x2="404.5" y2="360.5" stroke="#555" stroke-width="1.2"/>
<line x1="363.4" y1="355.2" x2="363.4" y2="366.2" stroke="#555" stroke-width="1.3"/>
<line x1="404.0" y1="355.2" x2="404.0" y2="366.2" stroke="#555" stroke-width="1.5"/>
<text transform="translate(385,357) scale(1.07,1)" x="0" y="0" font-size="11.5" text-anchor="middle" font-weight="normal" >16%</text>
<rect x="222.6" y="435.3" width="76.79999999999998" height="55.69999999999999" fill="none" stroke="#333" stroke-width="0.9"/>
<line x1="220.0" y1="491.0" x2="222.6" y2="491.0" stroke="#444" stroke-width="0.6"/>
<line x1="221.29999999999998" y1="488.215" x2="222.6" y2="488.215" stroke="#444" stroke-width="0.6"/>
<line x1="221.29999999999998" y1="485.43" x2="222.6" y2="485.43" stroke="#444" stroke-width="0.6"/>
<line x1="221.29999999999998" y1="482.645" x2="222.6" y2="482.645" stroke="#444" stroke-width="0.6"/>
<line x1="220.0" y1="479.86" x2="222.6" y2="479.86" stroke="#444" stroke-width="0.6"/>
<line x1="221.29999999999998" y1="477.075" x2="222.6" y2="477.075" stroke="#444" stroke-width="0.6"/>
<line x1="221.29999999999998" y1="474.29" x2="222.6" y2="474.29" stroke="#444" stroke-width="0.6"/>
<line x1="221.29999999999998" y1="471.505" x2="222.6" y2="471.505" stroke="#444" stroke-width="0.6"/>
<line x1="220.0" y1="468.72" x2="222.6" y2="468.72" stroke="#444" stroke-width="0.6"/>
<line x1="221.29999999999998" y1="465.935" x2="222.6" y2="465.935" stroke="#444" stroke-width="0.6"/>
<line x1="221.29999999999998" y1="463.15" x2="222.6" y2="463.15" stroke="#444" stroke-width="0.6"/>
<line x1="221.29999999999998" y1="460.365" x2="222.6" y2="460.365" stroke="#444" stroke-width="0.6"/>
<line x1="220.0" y1="457.58" x2="222.6" y2="457.58" stroke="#444" stroke-width="0.6"/>
<line x1="221.29999999999998" y1="454.795" x2="222.6" y2="454.795" stroke="#444" stroke-width="0.6"/>
<line x1="221.29999999999998" y1="452.01" x2="222.6" y2="452.01" stroke="#444" stroke-width="0.6"/>
<line x1="221.29999999999998" y1="449.225" x2="222.6" y2="449.225" stroke="#444" stroke-width="0.6"/>
<line x1="220.0" y1="446.44" x2="222.6" y2="446.44" stroke="#444" stroke-width="0.6"/>
<line x1="221.29999999999998" y1="443.65500000000003" x2="222.6" y2="443.65500000000003" stroke="#444" stroke-width="0.6"/>
<line x1="221.29999999999998" y1="440.87" x2="222.6" y2="440.87" stroke="#444" stroke-width="0.6"/>
<line x1="221.29999999999998" y1="438.08500000000004" x2="222.6" y2="438.08500000000004" stroke="#444" stroke-width="0.6"/>
<line x1="220.0" y1="435.3" x2="222.6" y2="435.3" stroke="#444" stroke-width="0.6"/>
<line x1="222.6" y1="491" x2="222.6" y2="493.5" stroke="#444" stroke-width="0.6"/>
<line x1="228.37977591674843" y1="491" x2="228.37977591674843" y2="492.3" stroke="#444" stroke-width="0.6"/>
<line x1="231.7607280906175" y1="491" x2="231.7607280906175" y2="492.3" stroke="#444" stroke-width="0.6"/>
<line x1="234.15955183349686" y1="491" x2="234.15955183349686" y2="492.3" stroke="#444" stroke-width="0.6"/>
<line x1="236.02022408325155" y1="491" x2="236.02022408325155" y2="492.3" stroke="#444" stroke-width="0.6"/>
<line x1="237.54050400736594" y1="491" x2="237.54050400736594" y2="492.3" stroke="#444" stroke-width="0.6"/>
<line x1="238.8258823682737" y1="491" x2="238.8258823682737" y2="492.3" stroke="#444" stroke-width="0.6"/>
<line x1="239.9393277502453" y1="491" x2="239.9393277502453" y2="492.3" stroke="#444" stroke-width="0.6"/>
<line x1="240.92145618123502" y1="491" x2="240.92145618123502" y2="492.3" stroke="#444" stroke-width="0.6"/>
<line x1="241.79999999999998" y1="491" x2="241.79999999999998" y2="493.5" stroke="#444" stroke-width="0.6"/>
<line x1="247.57977591674842" y1="491" x2="247.57977591674842" y2="492.3" stroke="#444" stroke-width="0.6"/>
<line x1="250.9607280906175" y1="491" x2="250.9607280906175" y2="492.3" stroke="#444" stroke-width="0.6"/>
<line x1="253.35955183349688" y1="491" x2="253.35955183349688" y2="492.3" stroke="#444" stroke-width="0.6"/>
<line x1="255.22022408325154" y1="491" x2="255.22022408325154" y2="492.3" stroke="#444" stroke-width="0.6"/>
<line x1="256.7405040073659" y1="491" x2="256.7405040073659" y2="492.3" stroke="#444" stroke-width="0.6"/>
<line x1="258.0258823682737" y1="491" x2="258.0258823682737" y2="492.3" stroke="#444" stroke-width="0.6"/>
<line x1="259.1393277502453" y1="491" x2="259.1393277502453" y2="492.3" stroke="#444" stroke-width="0.6"/>
<line x1="260.12145618123503" y1="491" x2="260.12145618123503" y2="492.3" stroke="#444" stroke-width="0.6"/>
<line x1="261.0" y1="491" x2="261.0" y2="493.5" stroke="#444" stroke-width="0.6"/>
<line x1="266.7797759167484" y1="491" x2="266.7797759167484" y2="492.3" stroke="#444" stroke-width="0.6"/>
<line x1="270.1607280906175" y1="491" x2="270.1607280906175" y2="492.3" stroke="#444" stroke-width="0.6"/>
<line x1="272.55955183349687" y1="491" x2="272.55955183349687" y2="492.3" stroke="#444" stroke-width="0.6"/>
<line x1="274.4202240832515" y1="491" x2="274.4202240832515" y2="492.3" stroke="#444" stroke-width="0.6"/>
<line x1="275.9405040073659" y1="491" x2="275.9405040073659" y2="492.3" stroke="#444" stroke-width="0.6"/>
<line x1="277.2258823682737" y1="491" x2="277.2258823682737" y2="492.3" stroke="#444" stroke-width="0.6"/>
<line x1="278.3393277502453" y1="491" x2="278.3393277502453" y2="492.3" stroke="#444" stroke-width="0.6"/>
<line x1="279.321456181235" y1="491" x2="279.321456181235" y2="492.3" stroke="#444" stroke-width="0.6"/>
<line x1="280.2" y1="491" x2="280.2" y2="493.5" stroke="#444" stroke-width="0.6"/>
<line x1="285.9797759167484" y1="491" x2="285.9797759167484" y2="492.3" stroke="#444" stroke-width="0.6"/>
<line x1="289.3607280906175" y1="491" x2="289.3607280906175" y2="492.3" stroke="#444" stroke-width="0.6"/>
<line x1="291.75955183349686" y1="491" x2="291.75955183349686" y2="492.3" stroke="#444" stroke-width="0.6"/>
<line x1="293.6202240832515" y1="491" x2="293.6202240832515" y2="492.3" stroke="#444" stroke-width="0.6"/>
<line x1="295.14050400736596" y1="491" x2="295.14050400736596" y2="492.3" stroke="#444" stroke-width="0.6"/>
<line x1="296.42588236827373" y1="491" x2="296.42588236827373" y2="492.3" stroke="#444" stroke-width="0.6"/>
<line x1="297.5393277502453" y1="491" x2="297.5393277502453" y2="492.3" stroke="#444" stroke-width="0.6"/>
<line x1="298.521456181235" y1="491" x2="298.521456181235" y2="492.3" stroke="#444" stroke-width="0.6"/>
<line x1="299.4" y1="491" x2="299.4" y2="493.5" stroke="#444" stroke-width="0.6"/>
<text transform="translate(223.2,502.2) scale(0.86,1)" x="0" y="0" font-size="7.8" text-anchor="middle" font-weight="normal" >10<tspan font-size="6.6" dy="-3.2">0</tspan></text>
<text transform="translate(242.39999999999998,502.2) scale(0.86,1)" x="0" y="0" font-size="7.8" text-anchor="middle" font-weight="normal" >10<tspan font-size="6.6" dy="-3.2">1</tspan></text>
<text transform="translate(261.6,502.2) scale(0.86,1)" x="0" y="0" font-size="7.8" text-anchor="middle" font-weight="normal" >10<tspan font-size="6.6" dy="-3.2">2</tspan></text>
<text transform="translate(280.8,502.2) scale(0.86,1)" x="0" y="0" font-size="7.8" text-anchor="middle" font-weight="normal" >10<tspan font-size="6.6" dy="-3.2">3</tspan></text>
<text transform="translate(300.0,502.2) scale(0.86,1)" x="0" y="0" font-size="7.8" text-anchor="middle" font-weight="normal" >10<tspan font-size="6.6" dy="-3.2">4</tspan></text>
<text transform="translate(217.29999999999998,435.6) rotate(-90)" font-size="6.5" text-anchor="middle">200</text>
<text transform="translate(217.29999999999998,491) rotate(-90)" font-size="6.5" text-anchor="middle">0</text>
<text transform="translate(209.79999999999998,465.15) rotate(-90)" font-size="6.5" text-anchor="middle">Counts</text>
<path d="M223.2,489.8 L224.2,490.5 L225.2,490.0 L226.2,489.5 L227.2,489.7 L228.2,489.1 L229.2,489.5 L230.2,489.7 L231.2,488.7 L232.2,487.6 L233.2,486.2 L234.2,485.4 L235.2,483.8 L236.2,482.4 L237.2,480.2 L238.2,478.0 L239.2,474.3 L240.2,470.9 L241.2,468.9 L242.2,467.4 L243.2,466.8 L244.2,465.9 L245.2,464.6 L246.2,466.7 L247.2,469.4 L248.2,473.7 L249.2,477.2 L250.2,480.3 L251.2,483.2 L252.2,484.7 L253.2,485.9 L254.2,487.4 L255.2,487.9 L256.2,487.8 L257.2,488.5 L258.2,488.8 L259.2,488.9 L260.2,488.4 L261.2,488.4 L262.2,488.5 L263.2,488.0 L264.2,487.3 L265.2,486.9 L266.2,485.8 L267.2,484.1 L268.2,482.2 L269.2,481.3 L270.2,480.3 L271.2,479.3 L272.2,480.0 L273.2,481.3 L274.2,482.2 L275.2,484.1 L276.2,485.8 L277.2,486.6 L278.2,488.1 L279.2,488.3 L280.2,489.0 L281.2,489.5 L282.2,489.3 L283.2,489.4 L284.2,490.0 L285.2,489.8 L286.2,489.4 L287.2,489.4 L288.2,489.4 L289.2,490.2 L290.2,490.1 L291.2,489.6 L292.2,490.2 L293.2,490.4 L294.2,490.1 L295.2,489.9 L296.2,490.1 L297.2,489.8 L298.2,489.7" stroke="#222" stroke-width="1.0" fill="none"/>
<line x1="257.5" y1="468.8" x2="299.4" y2="468.8" stroke="#555" stroke-width="1.2"/>
<line x1="257.5" y1="463.5" x2="257.5" y2="474.5" stroke="#555" stroke-width="1.3"/>
<line x1="298.9" y1="463.5" x2="298.9" y2="474.5" stroke="#555" stroke-width="1.5"/>
<text transform="translate(280.6,465.5) scale(1.07,1)" x="0" y="0" font-size="11.5" text-anchor="middle" font-weight="normal" >27%</text>
<rect x="327.6" y="435.7" width="76.59999999999997" height="55.19999999999999" fill="none" stroke="#333" stroke-width="0.9"/>
<line x1="325.0" y1="490.9" x2="327.6" y2="490.9" stroke="#444" stroke-width="0.6"/>
<line x1="326.3" y1="488.14" x2="327.6" y2="488.14" stroke="#444" stroke-width="0.6"/>
<line x1="326.3" y1="485.38" x2="327.6" y2="485.38" stroke="#444" stroke-width="0.6"/>
<line x1="326.3" y1="482.62" x2="327.6" y2="482.62" stroke="#444" stroke-width="0.6"/>
<line x1="325.0" y1="479.85999999999996" x2="327.6" y2="479.85999999999996" stroke="#444" stroke-width="0.6"/>
<line x1="326.3" y1="477.09999999999997" x2="327.6" y2="477.09999999999997" stroke="#444" stroke-width="0.6"/>
<line x1="326.3" y1="474.34" x2="327.6" y2="474.34" stroke="#444" stroke-width="0.6"/>
<line x1="326.3" y1="471.58" x2="327.6" y2="471.58" stroke="#444" stroke-width="0.6"/>
<line x1="325.0" y1="468.82" x2="327.6" y2="468.82" stroke="#444" stroke-width="0.6"/>
<line x1="326.3" y1="466.06" x2="327.6" y2="466.06" stroke="#444" stroke-width="0.6"/>
<line x1="326.3" y1="463.29999999999995" x2="327.6" y2="463.29999999999995" stroke="#444" stroke-width="0.6"/>
<line x1="326.3" y1="460.53999999999996" x2="327.6" y2="460.53999999999996" stroke="#444" stroke-width="0.6"/>
<line x1="325.0" y1="457.78" x2="327.6" y2="457.78" stroke="#444" stroke-width="0.6"/>
<line x1="326.3" y1="455.02" x2="327.6" y2="455.02" stroke="#444" stroke-width="0.6"/>
<line x1="326.3" y1="452.26" x2="327.6" y2="452.26" stroke="#444" stroke-width="0.6"/>
<line x1="326.3" y1="449.5" x2="327.6" y2="449.5" stroke="#444" stroke-width="0.6"/>
<line x1="325.0" y1="446.74" x2="327.6" y2="446.74" stroke="#444" stroke-width="0.6"/>
<line x1="326.3" y1="443.97999999999996" x2="327.6" y2="443.97999999999996" stroke="#444" stroke-width="0.6"/>
<line x1="326.3" y1="441.21999999999997" x2="327.6" y2="441.21999999999997" stroke="#444" stroke-width="0.6"/>
<line x1="326.3" y1="438.46" x2="327.6" y2="438.46" stroke="#444" stroke-width="0.6"/>
<line x1="325.0" y1="435.7" x2="327.6" y2="435.7" stroke="#444" stroke-width="0.6"/>
<line x1="327.6" y1="490.9" x2="327.6" y2="493.4" stroke="#444" stroke-width="0.6"/>
<line x1="333.36472441696526" y1="490.9" x2="333.36472441696526" y2="492.2" stroke="#444" stroke-width="0.6"/>
<line x1="336.73687202788153" y1="490.9" x2="336.73687202788153" y2="492.2" stroke="#444" stroke-width="0.6"/>
<line x1="339.1294488339305" y1="490.9" x2="339.1294488339305" y2="492.2" stroke="#444" stroke-width="0.6"/>
<line x1="340.98527558303476" y1="490.9" x2="340.98527558303476" y2="492.2" stroke="#444" stroke-width="0.6"/>
<line x1="342.50159644484677" y1="490.9" x2="342.50159644484677" y2="492.2" stroke="#444" stroke-width="0.6"/>
<line x1="343.78362746627306" y1="490.9" x2="343.78362746627306" y2="492.2" stroke="#444" stroke-width="0.6"/>
<line x1="344.89417325089573" y1="490.9" x2="344.89417325089573" y2="492.2" stroke="#444" stroke-width="0.6"/>
<line x1="345.8737440557631" y1="490.9" x2="345.8737440557631" y2="492.2" stroke="#444" stroke-width="0.6"/>
<line x1="346.75" y1="490.9" x2="346.75" y2="493.4" stroke="#444" stroke-width="0.6"/>
<line x1="352.51472441696524" y1="490.9" x2="352.51472441696524" y2="492.2" stroke="#444" stroke-width="0.6"/>
<line x1="355.88687202788157" y1="490.9" x2="355.88687202788157" y2="492.2" stroke="#444" stroke-width="0.6"/>
<line x1="358.2794488339305" y1="490.9" x2="358.2794488339305" y2="492.2" stroke="#444" stroke-width="0.6"/>
<line x1="360.13527558303474" y1="490.9" x2="360.13527558303474" y2="492.2" stroke="#444" stroke-width="0.6"/>
<line x1="361.6515964448468" y1="490.9" x2="361.6515964448468" y2="492.2" stroke="#444" stroke-width="0.6"/>
<line x1="362.93362746627304" y1="490.9" x2="362.93362746627304" y2="492.2" stroke="#444" stroke-width="0.6"/>
<line x1="364.0441732508957" y1="490.9" x2="364.0441732508957" y2="492.2" stroke="#444" stroke-width="0.6"/>
<line x1="365.0237440557631" y1="490.9" x2="365.0237440557631" y2="492.2" stroke="#444" stroke-width="0.6"/>
<line x1="365.9" y1="490.9" x2="365.9" y2="493.4" stroke="#444" stroke-width="0.6"/>
<line x1="371.6647244169652" y1="490.9" x2="371.6647244169652" y2="492.2" stroke="#444" stroke-width="0.6"/>
<line x1="375.03687202788154" y1="490.9" x2="375.03687202788154" y2="492.2" stroke="#444" stroke-width="0.6"/>
<line x1="377.42944883393045" y1="490.9" x2="377.42944883393045" y2="492.2" stroke="#444" stroke-width="0.6"/>
<line x1="379.2852755830348" y1="490.9" x2="379.2852755830348" y2="492.2" stroke="#444" stroke-width="0.6"/>
<line x1="380.8015964448468" y1="490.9" x2="380.8015964448468" y2="492.2" stroke="#444" stroke-width="0.6"/>
<line x1="382.083627466273" y1="490.9" x2="382.083627466273" y2="492.2" stroke="#444" stroke-width="0.6"/>
<line x1="383.19417325089574" y1="490.9" x2="383.19417325089574" y2="492.2" stroke="#444" stroke-width="0.6"/>
<line x1="384.17374405576305" y1="490.9" x2="384.17374405576305" y2="492.2" stroke="#444" stroke-width="0.6"/>
<line x1="385.05" y1="490.9" x2="385.05" y2="493.4" stroke="#444" stroke-width="0.6"/>
<line x1="390.81472441696525" y1="490.9" x2="390.81472441696525" y2="492.2" stroke="#444" stroke-width="0.6"/>
<line x1="394.1868720278815" y1="490.9" x2="394.1868720278815" y2="492.2" stroke="#444" stroke-width="0.6"/>
<line x1="396.5794488339305" y1="490.9" x2="396.5794488339305" y2="492.2" stroke="#444" stroke-width="0.6"/>
<line x1="398.43527558303475" y1="490.9" x2="398.43527558303475" y2="492.2" stroke="#444" stroke-width="0.6"/>
<line x1="399.95159644484676" y1="490.9" x2="399.95159644484676" y2="492.2" stroke="#444" stroke-width="0.6"/>
<line x1="401.233627466273" y1="490.9" x2="401.233627466273" y2="492.2" stroke="#444" stroke-width="0.6"/>
<line x1="402.3441732508957" y1="490.9" x2="402.3441732508957" y2="492.2" stroke="#444" stroke-width="0.6"/>
<line x1="403.3237440557631" y1="490.9" x2="403.3237440557631" y2="492.2" stroke="#444" stroke-width="0.6"/>
<line x1="404.2" y1="490.9" x2="404.2" y2="493.4" stroke="#444" stroke-width="0.6"/>
<text transform="translate(328.20000000000005,502.09999999999997) scale(0.86,1)" x="0" y="0" font-size="7.8" text-anchor="middle" font-weight="normal" >10<tspan font-size="6.6" dy="-3.2">0</tspan></text>
<text transform="translate(347.35,502.09999999999997) scale(0.86,1)" x="0" y="0" font-size="7.8" text-anchor="middle" font-weight="normal" >10<tspan font-size="6.6" dy="-3.2">1</tspan></text>
<text transform="translate(366.5,502.09999999999997) scale(0.86,1)" x="0" y="0" font-size="7.8" text-anchor="middle" font-weight="normal" >10<tspan font-size="6.6" dy="-3.2">2</tspan></text>
<text transform="translate(385.65000000000003,502.09999999999997) scale(0.86,1)" x="0" y="0" font-size="7.8" text-anchor="middle" font-weight="normal" >10<tspan font-size="6.6" dy="-3.2">3</tspan></text>
<text transform="translate(404.8,502.09999999999997) scale(0.86,1)" x="0" y="0" font-size="7.8" text-anchor="middle" font-weight="normal" >10<tspan font-size="6.6" dy="-3.2">4</tspan></text>
<text transform="translate(322.3,436.0) rotate(-90)" font-size="6.5" text-anchor="middle">200</text>
<text transform="translate(322.3,490.9) rotate(-90)" font-size="6.5" text-anchor="middle">0</text>
<text transform="translate(314.8,465.29999999999995) rotate(-90)" font-size="6.5" text-anchor="middle">Counts</text>
<path d="M328.2,490.6 L329.2,490.2 L330.2,490.0 L331.2,490.2 L332.2,489.6 L333.2,489.9 L334.2,489.5 L335.2,488.5 L336.2,488.0 L337.2,487.6 L338.2,487.0 L339.2,486.2 L340.2,484.7 L341.2,483.6 L342.2,481.5 L343.2,480.2 L344.2,477.7 L345.2,476.3 L346.2,475.3 L347.2,474.8 L348.2,474.1 L349.2,475.5 L350.2,476.1 L351.2,477.6 L352.2,479.3 L353.2,480.5 L354.2,482.2 L355.2,482.9 L356.2,483.6 L357.2,484.9 L358.2,484.4 L359.2,484.8 L360.2,484.7 L361.2,483.6 L362.2,482.4 L363.2,481.0 L364.2,479.3 L365.2,478.4 L366.2,476.8 L367.2,476.3 L368.2,476.4 L369.2,476.8 L370.2,477.7 L371.2,478.1 L372.2,478.9 L373.2,480.8 L374.2,482.8 L375.2,484.1 L376.2,485.5 L377.2,486.7 L378.2,487.9 L379.2,488.6 L380.2,488.9 L381.2,489.4 L382.2,489.5 L383.2,490.0 L384.2,489.8 L385.2,490.0 L386.2,490.0 L387.2,489.5 L388.2,489.8 L389.2,490.1 L390.2,490.1 L391.2,489.5 L392.2,489.5 L393.2,489.8 L394.2,489.5 L395.2,489.7 L396.2,489.6 L397.2,490.2 L398.2,490.3 L399.2,490.4 L400.2,489.8 L401.2,490.3 L402.2,490.3 L403.2,489.9" stroke="#222" stroke-width="1.0" fill="none"/>
<line x1="363.4" y1="468.5" x2="404.2" y2="468.5" stroke="#555" stroke-width="1.2"/>
<line x1="363.4" y1="463.2" x2="363.4" y2="474.2" stroke="#555" stroke-width="1.3"/>
<line x1="403.7" y1="463.2" x2="403.7" y2="474.2" stroke="#555" stroke-width="1.5"/>
<text transform="translate(384.2,466.7) scale(1.07,1)" x="0" y="0" font-size="11.5" text-anchor="middle" font-weight="normal" >44%</text>
<text x="314.2" y="408.9" font-size="13.7" text-anchor="middle" font-weight="normal" >IgG2b</text>
<line x1="224.5" y1="403.3" x2="289.4" y2="403.3" stroke="#999" stroke-width="1.4"/>
<line x1="337" y1="403.3" x2="404.2" y2="403.3" stroke="#999" stroke-width="1.4"/>
<text x="313.3" y="516.3" font-size="13.5" text-anchor="middle" font-weight="normal" >IgG1</text>
<line x1="222.6" y1="510.6" x2="288.1" y2="510.6" stroke="#999" stroke-width="1.4"/>
<line x1="337.3" y1="511" x2="403.1" y2="511" stroke="#999" stroke-width="1.4"/>
<line x1="456.1" y1="323.7" x2="456.1" y2="386.7" stroke="#666" stroke-width="1"/>
<line x1="456.1" y1="386.7" x2="508.4" y2="386.7" stroke="#666" stroke-width="1"/>
<text transform="translate(446.6,343.40000000000003) scale(0.9,1)" x="0" y="0" font-size="12" text-anchor="middle" font-weight="normal" >16</text>
<text transform="translate(446.6,357.2) scale(0.9,1)" x="0" y="0" font-size="12" text-anchor="middle" font-weight="normal" >12</text>
<text transform="translate(446.6,371.6) scale(0.9,1)" x="0" y="0" font-size="12" text-anchor="middle" font-weight="normal" >8</text>
<text transform="translate(446.6,385.1) scale(0.9,1)" x="0" y="0" font-size="12" text-anchor="middle" font-weight="normal" >4</text>
<path d="M472.3,322.8 L472.3,318.2 L490.7,318.2 L490.7,322.8" stroke="#999" stroke-width="1" fill="none"/>
<circle cx="474.3" cy="360.7" r="2.3" fill="none" stroke="#111" stroke-width="1.3"/>
<circle cx="474.3" cy="364.8" r="2.3" fill="none" stroke="#111" stroke-width="1.3"/>
<circle cx="474.3" cy="374.8" r="2.35" fill="none" stroke="#111" stroke-width="1.1"/>
<line x1="468.2" y1="367.3" x2="480.9" y2="367.3" stroke="#000" stroke-width="1.6"/>
<circle cx="491.4" cy="330.4" r="3.3" fill="#000" stroke="#000" stroke-width="0.3"/>
<circle cx="491.4" cy="340.2" r="3.3" fill="#000" stroke="#000" stroke-width="0.3"/>
<circle cx="491.4" cy="342.4" r="3.3" fill="#000" stroke="#000" stroke-width="0.3"/>
<line x1="485.1" y1="337" x2="497.2" y2="337" stroke="#000" stroke-width="1.6"/>
<line x1="457.4" y1="434.2" x2="457.4" y2="493.7" stroke="#666" stroke-width="1"/>
<line x1="457.4" y1="493.7" x2="509.2" y2="493.7" stroke="#666" stroke-width="1"/>
<text transform="translate(446.3,441.6) scale(0.92,1)" x="0" y="0" font-size="12" text-anchor="middle" font-weight="normal" >50</text>
<text transform="translate(446.3,464.1) scale(0.92,1)" x="0" y="0" font-size="12" text-anchor="middle" font-weight="normal" >30</text>
<text transform="translate(446.3,487.90000000000003) scale(0.92,1)" x="0" y="0" font-size="12" text-anchor="middle" font-weight="normal" >10</text>
<path d="M473.3,434 L473.3,429.2 L491.7,429.2 L491.7,434" stroke="#999" stroke-width="1" fill="none"/>
<circle cx="475" cy="450.3" r="2.35" fill="none" stroke="#111" stroke-width="1.05"/>
<circle cx="475" cy="452.5" r="2.35" fill="none" stroke="#111" stroke-width="1.05"/>
<circle cx="475" cy="461.2" r="2.35" fill="none" stroke="#111" stroke-width="1.05"/>
<circle cx="475" cy="470.7" r="2.35" fill="none" stroke="#111" stroke-width="1.05"/>
<line x1="468.9" y1="457.9" x2="480.7" y2="457.9" stroke="#000" stroke-width="1.6"/>
<circle cx="491.7" cy="440" r="2.9" fill="#000" stroke="#000" stroke-width="0.3"/>
<circle cx="491.7" cy="442.6" r="2.9" fill="#000" stroke="#000" stroke-width="0.3"/>
<line x1="486" y1="441.2" x2="497.7" y2="441.2" stroke="#000" stroke-width="1.6"/>
<text transform="translate(436.3,450.8) rotate(-90) scale(1.05,1)" font-size="11.5" x="0" y="0">% switched cells</text>
<text x="469.5" y="512" font-size="10" text-anchor="middle" font-weight="normal" >WT</text>
<text x="503.5" y="512" font-size="10" text-anchor="middle" font-weight="normal" >WASp-</text>
</svg>
</body></html>
